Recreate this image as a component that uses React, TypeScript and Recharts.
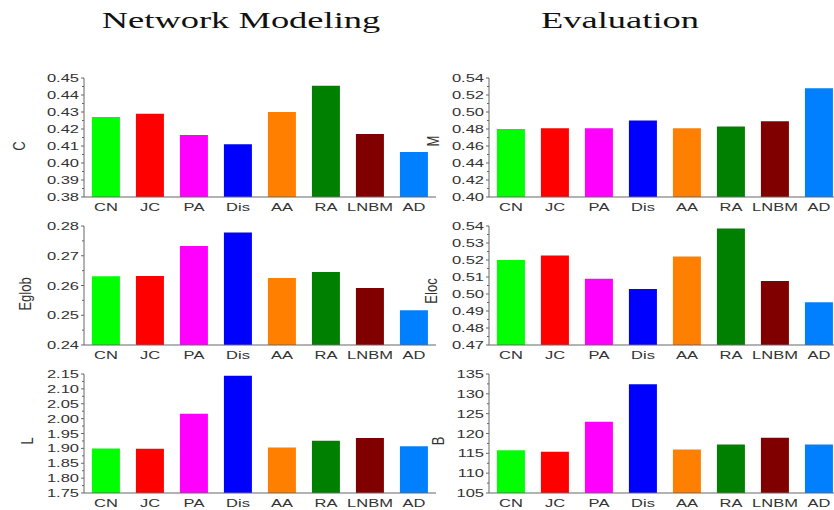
import React from 'react';
import { BarChart, Bar, XAxis, YAxis, Cell } from 'recharts';

// Link-prediction methods compared in every panel
const CATEGORIES = ['CN', 'JC', 'PA', 'Dis', 'AA', 'RA', 'LNBM', 'AD'];
const BAR_COLORS = ['#00ff00', '#ff0000', '#ff00ff', '#0000ff', '#ff8000', '#008000', '#800000', '#0080ff'];

// Network modeling metrics
const C_VALUES = [0.427, 0.429, 0.4165, 0.411, 0.43, 0.4455, 0.417, 0.4065];
const EGLOB_VALUES = [0.2631, 0.2632, 0.2733, 0.2778, 0.2625, 0.2645, 0.2592, 0.2517];
const L_VALUES = [1.9, 1.899, 2.016, 2.144, 1.903, 1.926, 1.935, 1.907];

// Evaluation metrics
const M_VALUES = [0.48, 0.481, 0.481, 0.49, 0.481, 0.483, 0.489, 0.528];
const ELOC_VALUES = [0.52, 0.5226, 0.5089, 0.5029, 0.522, 0.5386, 0.5077, 0.4952];
const B_VALUES = [115.8, 115.4, 122.95, 132.4, 115.96, 117.2, 118.9, 117.2];

// Major tick values for each y axis
const C_TICKS = [0.38, 0.39, 0.4, 0.41, 0.42, 0.43, 0.44, 0.45];
const EGLOB_TICKS = [0.24, 0.25, 0.26, 0.27, 0.28];
const L_TICKS = [1.75, 1.8, 1.85, 1.9, 1.95, 2.0, 2.05, 2.1, 2.15];
const M_TICKS = [0.4, 0.42, 0.44, 0.46, 0.48, 0.5, 0.52, 0.54];
const ELOC_TICKS = [0.47, 0.48, 0.49, 0.5, 0.51, 0.52, 0.53, 0.54];
const B_TICKS = [105, 110, 115, 120, 125, 130, 135];

const TEXT_COLOR = '#333333';
const AXIS_COLOR = '#666666';
const SANS = '"Liberation Sans", Arial, sans-serif';
const SERIF = '"Liberation Serif", "Times New Roman", serif';
const STRETCH = 1.5;

const PLOT_TOP = 10;
const PLOT_HEIGHT = 119;
const XAXIS_HEIGHT = 20;
const CHART_HEIGHT = PLOT_TOP + PLOT_HEIGHT + XAXIS_HEIGHT;
const BAND_WIDTH = 44;

type PanelProps = {
  values: number[];
  ticks: number[];
  decimals: number;
  caption: string;
  captionX: number;
  captionY: number;
  left: number;
  top: number;
  axisWidth: number;
};

function withMinorTicks(major: number[]): number[] {
  const all: number[] = [];
  major.forEach((v, i) => {
    all.push(v);
    if (i < major.length - 1) all.push((v + major[i + 1]) / 2);
  });
  return all;
}

function Panel({ values, ticks, decimals, caption, captionX, captionY, left, top, axisWidth }: PanelProps) {
  const data = CATEGORIES.map((name, i) => ({ name, value: values[i] }));
  const majorKeys = new Set(ticks.map((t) => t.toFixed(5)));
  const width = axisWidth + BAND_WIDTH * CATEGORIES.length;

  const renderYTick = (props: any) => {
    const { x, y, payload } = props;
    const v: number = payload.value;
    const major = majorKeys.has(v.toFixed(5));
    return (
      <g>
        <line x1={x - (major ? 3 : 2)} x2={x} y1={y} y2={y} stroke={AXIS_COLOR} strokeWidth={1} />
        {major && (
          <text
            transform={`translate(${x - 5},${y + 4}) scale(${STRETCH},1)`}
            textAnchor="end"
            fontSize={11}
            fontFamily={SANS}
            fill={TEXT_COLOR}
          >
            {v.toFixed(decimals)}
          </text>
        )}
      </g>
    );
  };

  const renderXTick = (props: any) => {
    const { x, y, payload } = props;
    return (
      <text
        transform={`translate(${x},${y + 14}) scale(${STRETCH},1)`}
        textAnchor="middle"
        fontSize={11}
        fontFamily={SANS}
        fill={TEXT_COLOR}
      >
        {payload.value}
      </text>
    );
  };

  const renderCaption = () => (
    <text
      transform={`translate(${captionX},${captionY}) scale(1.3,1) rotate(-90)`}
      textAnchor="middle"
      fontSize={13}
      fontFamily={SANS}
      fill={TEXT_COLOR}
    >
      {caption}
    </text>
  );

  return (
    <div style={{ position: 'absolute', left, top, width, height: CHART_HEIGHT }}>
      <BarChart
        width={width}
        height={CHART_HEIGHT}
        data={data}
        margin={{ top: PLOT_TOP, right: 0, bottom: 0, left: 0 }}
        barCategoryGap="18%"
      >
        <XAxis
          dataKey="name"
          height={XAXIS_HEIGHT}
          tickLine={false}
          tickSize={0}
          tickMargin={0}
          interval={0}
          axisLine={{ stroke: AXIS_COLOR, strokeWidth: 1 }}
          tick={renderXTick}
        />
        <YAxis
          width={axisWidth}
          type="number"
          domain={[ticks[0], ticks[ticks.length - 1]]}
          ticks={withMinorTicks(ticks)}
          allowDataOverflow
          interval={0}
          tickLine={false}
          tickSize={0}
          tickMargin={0}
          axisLine={{ stroke: AXIS_COLOR, strokeWidth: 1 }}
          tick={renderYTick}
          label={renderCaption}
        />
        <Bar dataKey="value" isAnimationActive={false}>
          {data.map((d, i) => (
            <Cell key={d.name} fill={BAR_COLORS[i]} />
          ))}
        </Bar>
      </BarChart>
    </div>
  );
}

const LEFT_X = 0;
const RIGHT_X = 414;
const ROW_TOPS = [68, 216, 364];

export default function App() {
  return (
    <div
      style={{
        position: 'absolute',
        left: 0,
        top: 0,
        width: 834,
        height: 510,
        overflow: 'hidden',
        background: '#ffffff',
      }}
    >
      <svg width={834} height={50} style={{ position: 'absolute', left: 0, top: 0 }}>
        <text
          transform={`translate(241,28) scale(1.52,1)`}
          textAnchor="middle"
          fontSize={24}
          fontFamily={SERIF}
          fill="#111111"
        >
          Network Modeling
        </text>
        <text
          transform={`translate(620,28) scale(1.52,1)`}
          textAnchor="middle"
          fontSize={24}
          fontFamily={SERIF}
          fill="#111111"
        >
          Evaluation
        </text>
      </svg>

      <Panel values={C_VALUES} ticks={C_TICKS} decimals={2} caption="C" captionX={25} captionY={78}
        left={LEFT_X} top={ROW_TOPS[0]} axisWidth={84} />
      <Panel values={EGLOB_VALUES} ticks={EGLOB_TICKS} decimals={2} caption="Eglob" captionX={31} captionY={78}
        left={LEFT_X} top={ROW_TOPS[1]} axisWidth={84} />
      <Panel values={L_VALUES} ticks={L_TICKS} decimals={2} caption="L" captionX={33} captionY={77}
        left={LEFT_X} top={ROW_TOPS[2]} axisWidth={84} />

      <Panel values={M_VALUES} ticks={M_TICKS} decimals={2} caption="M" captionX={25} captionY={73}
        left={RIGHT_X} top={ROW_TOPS[0]} axisWidth={75} />
      <Panel values={ELOC_VALUES} ticks={ELOC_TICKS} decimals={2} caption="Eloc" captionX={23} captionY={75}
        left={RIGHT_X} top={ROW_TOPS[1]} axisWidth={75} />
      <Panel values={B_VALUES} ticks={B_TICKS} decimals={0} caption="B" captionX={30} captionY={77}
        left={RIGHT_X} top={ROW_TOPS[2]} axisWidth={75} />
    </div>
  );
}
